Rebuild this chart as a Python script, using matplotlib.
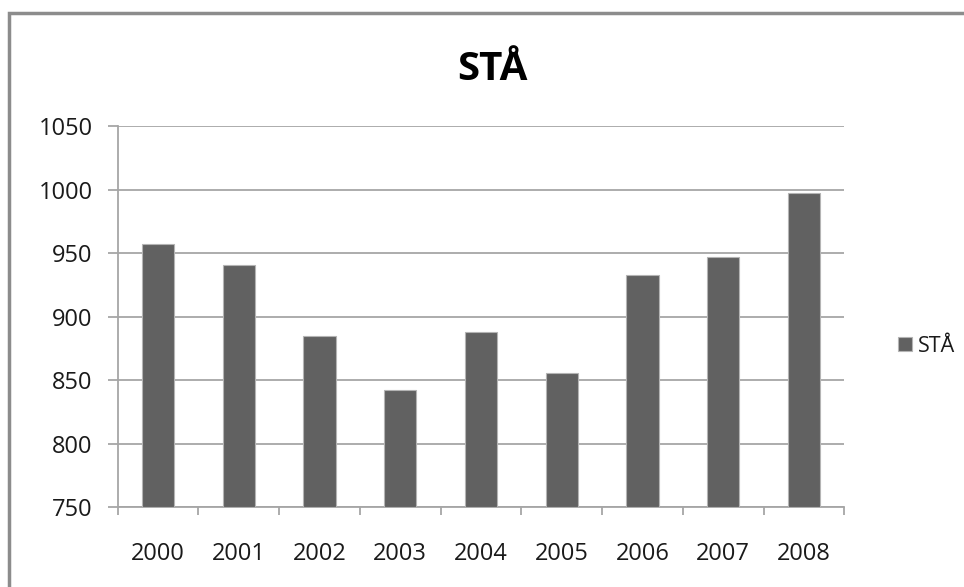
import matplotlib
matplotlib.use("Agg")
import matplotlib.pyplot as plt
import matplotlib.patches as mpatches
import numpy as np

# valores
anos = ['2000', '2001', '2002', '2003', '2004', '2005', '2006', '2007', '2008']
sta = [957, 941, 885, 842, 888, 856, 933, 947, 997]
titulo = 'STÅ'
yticks = [750, 800, 850, 900, 950, 1000, 1050]

plt.rcParams['font.family'] = ['Open Sans', 'DejaVu Sans']

W, H = 964, 587
fig = plt.figure(figsize=(W/100, H/100), dpi=100)
ax = fig.add_axes([117.7/W, 1-507.3/H, (844.3-117.7)/W, (507.3-126)/H])

x = np.arange(len(anos))
ax.bar(x, np.array(sta)-750, bottom=750, width=0.4, color='#616161',
       edgecolor='#b4b4b4', linewidth=0.8, label=titulo, zorder=3)

ax.set_xlim(-0.5, len(anos)-0.5)
ax.set_ylim(750, 1050)
ax.set_yticks(yticks)
ax.set_yticklabels([str(v) for v in yticks])
ax.yaxis.grid(True, color='#a6a6a6', linewidth=1.3, zorder=0)

# ticks do eixo x nas fronteiras das categorias
ax.set_xticks(x)
ax.set_xticklabels(anos)
ax.set_xticks(np.arange(-0.5, len(anos), 1.0), minor=True)
ax.tick_params(axis='x', which='major', length=0, pad=25, labelsize=17, colors='#1a1a1a')
ax.tick_params(axis='x', which='minor', length=6, width=1.3, color='#a6a6a6')
ax.tick_params(axis='y', length=7, width=1.3, color='#a6a6a6', pad=11, labelsize=17,
               labelcolor='#1a1a1a')

for s in ['top', 'right']:
    ax.spines[s].set_visible(False)
for s in ['left', 'bottom']:
    ax.spines[s].set_color('#a6a6a6')
    ax.spines[s].set_linewidth(1.3)

fig.text(492/W, 1-80/H, titulo, ha='center', va='baseline', fontsize=29,
         fontweight='bold', color='black')

ax.legend(loc='center left', bbox_to_anchor=(887/W, 1-346/H),
          bbox_transform=fig.transFigure, frameon=False, fontsize=15.5,
          handlelength=0.65, handleheight=0.65, handletextpad=0.3, borderpad=0,
          labelcolor='#1a1a1a')

# moldura da area do grafico
moldura = mpatches.Rectangle((8.5/W, -0.1), 1.2, 1.1-13.3/H, transform=fig.transFigure,
                             fill=False, edgecolor='#8c8c8c', linewidth=2.5)
fig.patches.append(moldura)

fig.savefig('out.png', dpi=100)
